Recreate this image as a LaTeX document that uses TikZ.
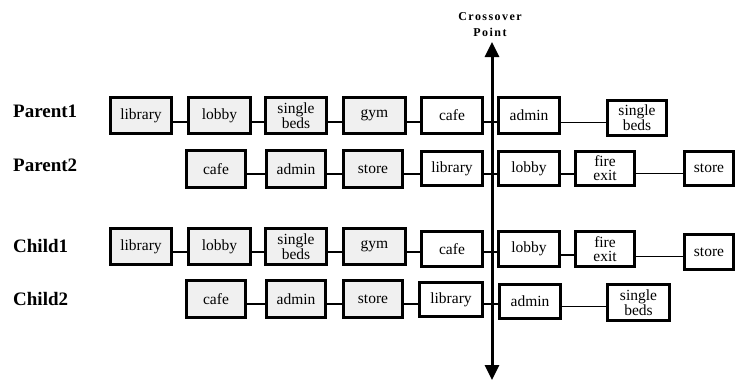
\documentclass[tikz,border=0pt]{standalone}
\usepackage{fontspec}
\setmainfont{Liberation Serif}
\newfontfamily\spacedserif[LetterSpace=12]{Liberation Serif}
\usetikzlibrary{arrows.meta}

\newcommand\roomfont{\fontsize{15.5}{14}\selectfont}
\newcommand\labelfont{\fontsize{19}{22}\selectfont\bfseries}
\newcommand\crossfont{\spacedserif\fontsize{12}{15}\selectfont\bfseries}

\tikzset{
  room/.style={draw, line width=2.8pt, inner sep=0pt, align=center, font=\roomfont},
  oldroom/.style={room, fill=black!6},
  link/.style={line width=2.8pt},
  thinlink/.style={line width=1pt},
  rowlabel/.style={anchor=base west, inner sep=0pt, font=\labelfont},
  crosslabel/.style={anchor=base, inner sep=0pt, font=\crossfont},
  crossline/.style={line width=3pt,
    {Triangle[width=14pt,length=15pt]}-{Triangle[width=14pt,length=15pt]}},
}

% \roombox{style}{name}{left}{right}{top}{bottom}{text}, outer edges in pt
\newcommand\roombox[7]{%
  \node[#1, minimum width={(#4-#3)*1pt-2.8pt}, minimum height={(#6-#5)*1pt-2.8pt}]
    (#2) at ({(#3+#4)/2},{(#5+#6)/2}) {#7};}

\begin{document}
\begin{tikzpicture}[x=1pt, y=-1pt]
  \useasboundingbox (0,0) rectangle (736,381);
  \fill[white] (0,0) rectangle (736,381);

  % crossover axis
  \coordinate (xtop) at (492,42);
  \coordinate (xbot) at (492,380);
  \draw[crossline] (xbot) -- (xtop);
  \node[crosslabel] (cross1) at (490,20.7) {Crossover};
  \node[crosslabel] (cross2) at (490,36) {Point};

  % row labels
  \node[rowlabel] (lp1) at (13,117) {Parent1};
  \node[rowlabel] (lp2) at (13,171) {Parent2};
  \node[rowlabel] (lc1) at (13,252) {Child1};
  \node[rowlabel] (lc2) at (13,305) {Child2};

  % link heights
  \coordinate (yp1) at (0,122);
  \coordinate (yp2) at (0,174);
  \coordinate (yp2t) at (0,173);
  \coordinate (yc1) at (0,252);
  \coordinate (yc1r) at (0,255);
  \coordinate (yc1t) at (0,256);
  \coordinate (yc2) at (0,304);
  \coordinate (yc2t) at (0,306);

  % Parent1
  \roombox{oldroom}{p1a}{109}{173}{96}{135}{library}
  \roombox{oldroom}{p1b}{187}{252}{96}{135}{lobby}
  \roombox{oldroom}{p1c}{264}{328}{96}{135}{single\\beds}
  \roombox{oldroom}{p1d}{342}{407}{96}{135}{gym}
  \roombox{room}{p1e}{420}{484}{96}{135}{cafe}
  \roombox{room}{p1f}{497}{561}{96}{135}{admin}
  \roombox{room}{p1g}{606}{668}{99}{137}{single\\beds}
  \foreach \a/\b in {p1a/p1b, p1b/p1c, p1c/p1d, p1d/p1e, p1e/p1f}
    \draw[link] (\a.east |- yp1) -- (\b.west |- yp1);
  \draw[thinlink] (p1f.east |- yp1) -- (p1g.west |- yp1);

  % Parent2
  \roombox{oldroom}{p2a}{185}{247}{149}{189}{cafe}
  \roombox{oldroom}{p2b}{265}{327}{149}{189}{admin}
  \roombox{oldroom}{p2c}{342}{404}{149}{189}{store}
  \roombox{room}{p2d}{420}{484}{150}{187}{library}
  \roombox{room}{p2e}{497}{561}{150}{187}{lobby}
  \roombox{room}{p2f}{574}{636}{150}{187}{fire\\exit}
  \roombox{room}{p2g}{683}{735}{150}{187}{store}
  \foreach \a/\b in {p2a/p2b, p2b/p2c, p2c/p2d, p2d/p2e, p2e/p2f}
    \draw[link] (\a.east |- yp2) -- (\b.west |- yp2);
  \draw[thinlink] (p2f.east |- yp2t) -- (p2g.west |- yp2t);

  % Child1
  \roombox{oldroom}{c1a}{109}{173}{227}{266}{library}
  \roombox{oldroom}{c1b}{187}{252}{227}{266}{lobby}
  \roombox{oldroom}{c1c}{264}{328}{227}{266}{single\\beds}
  \roombox{oldroom}{c1d}{342}{407}{227}{266}{gym}
  \roombox{room}{c1e}{420}{484}{230}{268}{cafe}
  \roombox{room}{c1f}{497}{561}{230}{268}{lobby}
  \roombox{room}{c1g}{574}{636}{230}{268}{fire\\exit}
  \roombox{room}{c1h}{683}{735}{233}{271}{store}
  \foreach \a/\b in {c1a/c1b, c1b/c1c, c1c/c1d, c1d/c1e, c1e/c1f}
    \draw[link] (\a.east |- yc1) -- (\b.west |- yc1);
  \draw[link] (c1f.east |- yc1r) -- (c1g.west |- yc1r);
  \draw[thinlink] (c1g.east |- yc1t) -- (c1h.west |- yc1t);

  % Child2
  \roombox{oldroom}{c2a}{185}{247}{279}{319}{cafe}
  \roombox{oldroom}{c2b}{265}{327}{279}{319}{admin}
  \roombox{oldroom}{c2c}{342}{404}{279}{319}{store}
  \roombox{room}{c2d}{418}{484}{281}{318}{library}
  \roombox{room}{c2e}{498}{562}{283}{320}{admin}
  \roombox{room}{c2f}{606}{671}{283}{322}{single\\beds}
  \foreach \a/\b in {c2a/c2b, c2b/c2c, c2c/c2d, c2d/c2e}
    \draw[link] (\a.east |- yc2) -- (\b.west |- yc2);
  \draw[thinlink] (c2e.east |- yc2t) -- (c2f.west |- yc2t);
\end{tikzpicture}
\end{document}
